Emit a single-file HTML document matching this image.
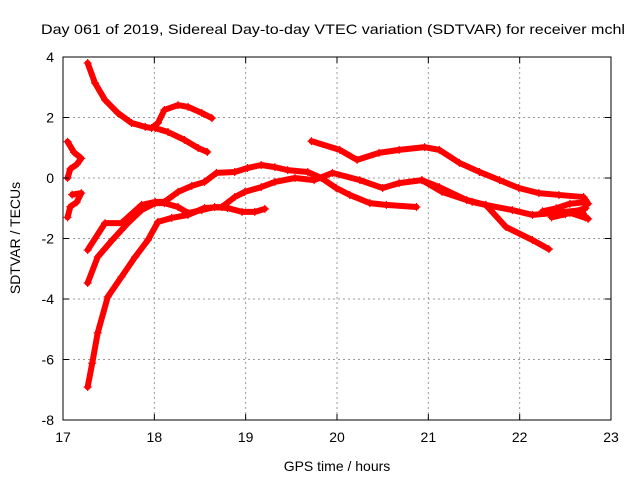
<!DOCTYPE html>
<html><head><meta charset="utf-8"><style>
body{margin:0;background:#fff}
svg{display:block;font-family:"Liberation Sans",sans-serif}
</style></head><body>
<svg id="chart" width="640" height="480" viewBox="0 0 640 480">
<text x="333" y="34" font-size="14" text-anchor="middle" textLength="584" lengthAdjust="spacingAndGlyphs">Day 061 of 2019, Sidereal Day-to-day VTEC variation (SDTVAR) for receiver mchl</text>
<g id="grid"></g>
<g id="series"></g>
<rect x="63" y="57" width="548" height="363" fill="none" stroke="#000" stroke-width="1"/>
<g id="axes"></g>
<text x="337" y="471" font-size="14" text-anchor="middle">GPS time / hours</text>
<text transform="translate(20,238) rotate(-90)" font-size="14" text-anchor="middle">SDTVAR / TECUs</text>
</svg>
<script>
const xTicks=[17,18,19,20,21,22,23];
const yTicks=[4,2,0,-2,-4,-6,-8];
const seriesA=[[17.27,3.8],[17.35,3.14],[17.46,2.58],[17.6,2.15],[17.75,1.82],[17.9,1.69],[17.97,1.65],[18.04,1.82],[18.11,2.25],[18.26,2.41],[18.37,2.35],[18.52,2.15],[18.63,1.98]];
const seriesB=[[18.01,1.65],[18.15,1.52],[18.33,1.26],[18.48,0.99],[18.58,0.86]];
const seriesC1=[[17.05,1.2],[17.12,0.85],[17.2,0.65],[17.15,0.45],[17.08,0.3],[17.05,0.0]];
const seriesC2=[[17.1,-0.55],[17.2,-0.5],[17.15,-0.8],[17.08,-0.95],[17.05,-1.3]];
const seriesD=[[17.27,-2.38],[17.46,-1.49],[17.64,-1.49],[17.86,-0.89],[18.01,-0.79],[18.11,-0.79],[18.26,-0.46],[18.41,-0.26],[18.55,-0.13],[18.68,0.17],[18.88,0.2],[19.02,0.33],[19.17,0.43],[19.32,0.36],[19.46,0.26],[19.68,0.2],[19.83,0.0],[19.99,-0.33],[20.14,-0.56],[20.36,-0.83],[20.54,-0.89],[20.87,-0.96]];
const seriesG=[[17.27,-3.47],[17.38,-2.61],[17.54,-2.05],[17.71,-1.49],[17.86,-1.06],[18.01,-0.83],[18.11,-0.83],[18.26,-0.96],[18.37,-1.16],[18.52,-1.06],[18.66,-0.96],[18.8,-0.99],[18.96,-1.12],[19.1,-1.12],[19.21,-1.02]];
const seriesH=[[17.27,-6.91],[17.32,-6.12],[17.38,-5.12],[17.49,-3.93],[17.64,-3.27],[17.79,-2.61],[17.93,-2.05],[18.04,-1.45],[18.19,-1.32],[18.37,-1.22],[18.55,-0.99],[18.74,-0.96],[18.88,-0.63],[18.99,-0.46],[19.17,-0.3],[19.32,-0.13],[19.54,0.0],[19.75,-0.07],[19.95,0.17],[20.25,-0.07],[20.5,-0.33],[20.68,-0.17],[20.93,-0.07],[21.12,-0.3],[21.42,-0.73],[21.63,-0.89],[21.92,-1.06],[22.14,-1.22],[22.36,-1.16],[22.68,-1.06],[22.72,-1.3]];
const seriesI=[[20.93,-0.07],[21.15,-0.46],[21.48,-0.79],[21.63,-0.89],[21.85,-1.62],[22.14,-2.05],[22.32,-2.35]];
const seriesE=[[19.72,1.22],[20.03,0.93],[20.22,0.6],[20.46,0.83],[20.68,0.93],[20.96,1.02],[21.12,0.93],[21.34,0.5],[21.56,0.2],[21.78,-0.07],[21.99,-0.33],[22.21,-0.5],[22.43,-0.56],[22.7,-0.63],[22.75,-0.85]];
const seriesK=[[22.25,-1.1],[22.4,-1.0],[22.55,-0.85],[22.72,-0.8],[22.72,-1.0],[22.5,-1.2],[22.35,-1.3],[22.55,-1.15],[22.75,-1.35]];
const allSeries=[seriesA,seriesB,seriesC1,seriesC2,seriesD,seriesG,seriesH,seriesI,seriesE,seriesK];
const names=['series-a','series-b','series-c1','series-c2','series-d','series-g','series-h','series-i','series-e','series-k'];
const L=63,R=611,T=57,B=420;
const xs=v=>L+(v-17)/6*(R-L);
const ys=v=>T+(4-v)/12*(B-T);
const NS='http://www.w3.org/2000/svg';
const grid=document.getElementById('grid'),axes=document.getElementById('axes'),ser=document.getElementById('series');
function mk(tag,at,parent){const e=document.createElementNS(NS,tag);for(const k in at)e.setAttribute(k,at[k]);parent.appendChild(e);return e;}
xTicks.forEach(t=>{const x=xs(t);
 if(t>17&&t<23){const g=mk('line',{x1:x,x2:x,y1:T,y2:B,stroke:'#999','stroke-dasharray':'2,3'},grid);
 
 }
 mk('line',{x1:x,x2:x,y1:B,y2:B-6,stroke:'#000'},axes);mk('line',{x1:x,x2:x,y1:T,y2:T+6,stroke:'#000'},axes);
 const tx=mk('text',{x:x,y:B+22,'font-size':14,'text-anchor':'middle'},axes);tx.textContent=t;
 
 });
yTicks.forEach(t=>{const y=ys(t);
 if(t>-8&&t<4){const g=mk('line',{x1:L,x2:R,y1:y,y2:y,stroke:'#999','stroke-dasharray':'2,3'},grid);
 
 }
 mk('line',{x1:L,x2:L+6,y1:y,y2:y,stroke:'#000'},axes);mk('line',{x1:R,x2:R-6,y1:y,y2:y,stroke:'#000'},axes);
 const tx=mk('text',{x:L-9,y:y+5,'font-size':14,'text-anchor':'end'},axes);tx.textContent=t;
 
 });
allSeries.forEach((s,i)=>{
 const g=mk('g',{},ser);
 
 
 mk('polyline',{points:s.map(p=>xs(p[0])+','+ys(p[1])).join(' '),fill:'none',stroke:'#f00','stroke-width':6,'stroke-linejoin':'round','stroke-linecap':'round'},g);
 s.forEach(p=>{const x=xs(p[0]),y=ys(p[1]);
  const m=mk('path',{d:`M${x-4},${y}h8M${x},${y-4}v8`,stroke:'#f00','stroke-width':1.2},g);
  
  });
});
</script>
</body></html>
